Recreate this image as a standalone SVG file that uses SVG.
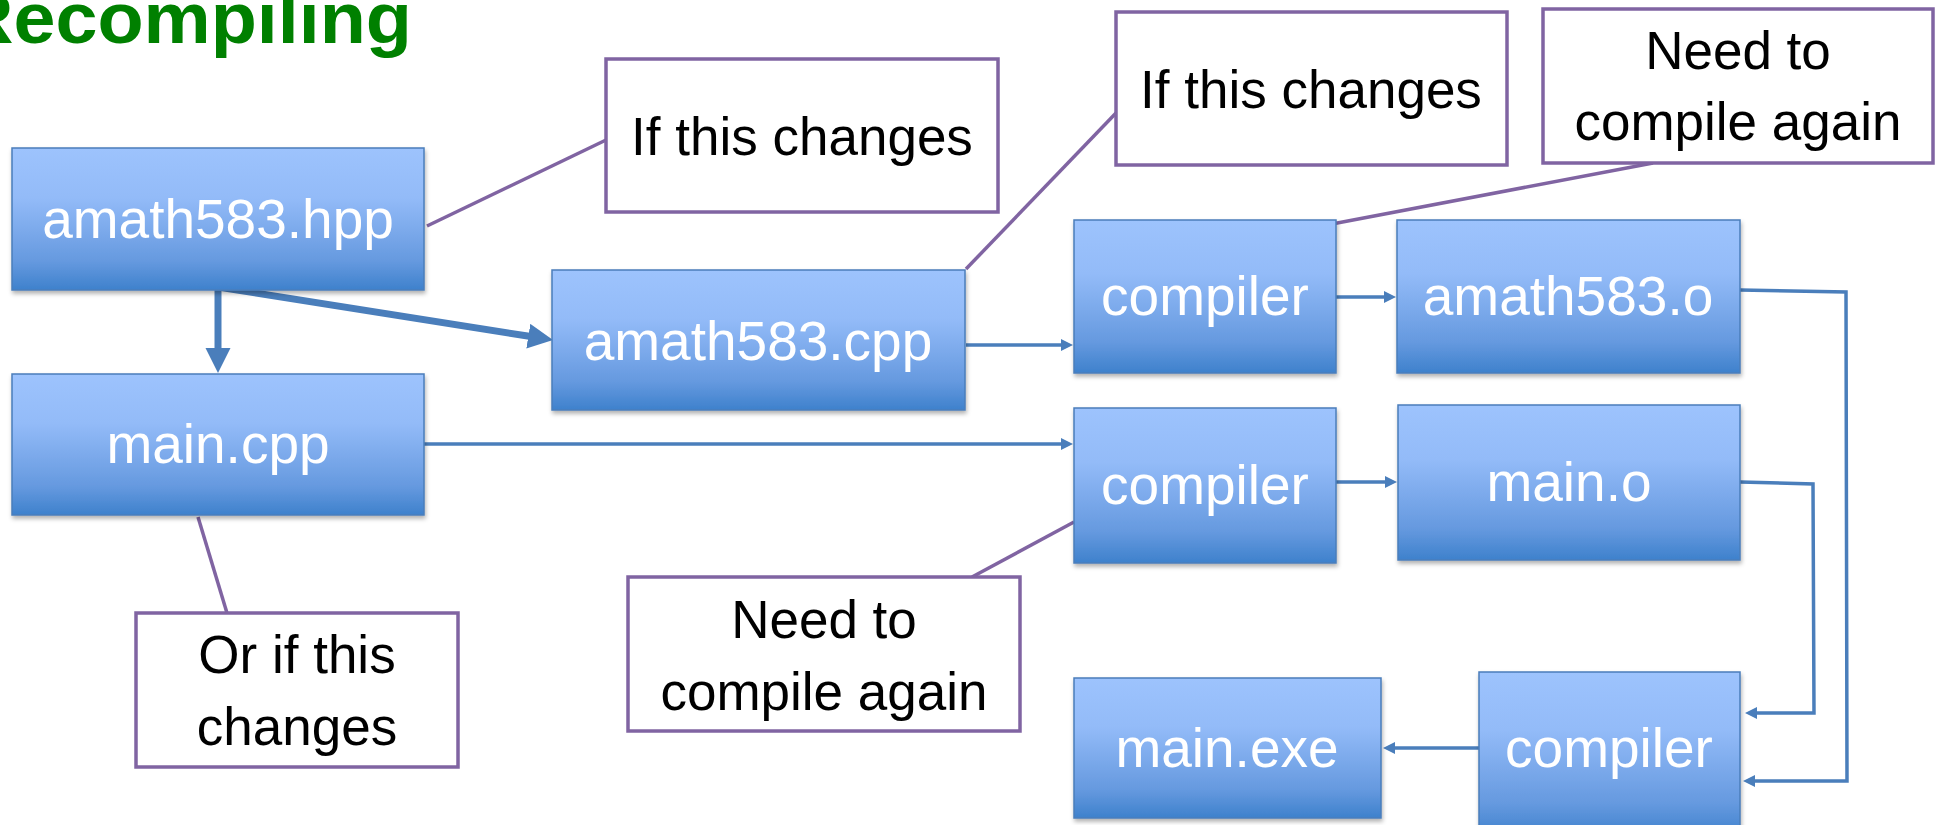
<svg xmlns="http://www.w3.org/2000/svg" width="1937" height="825" viewBox="0 0 1937 825">
<defs>
<linearGradient id="blueGrad" x1="0" y1="0" x2="0" y2="1">
<stop offset="0" stop-color="#9DC3FD"/>
<stop offset="0.35" stop-color="#93BBF8"/>
<stop offset="0.8" stop-color="#6599DF"/>
<stop offset="1" stop-color="#3E81CC"/>
</linearGradient>
<filter id="shadow" x="-5%" y="-5%" width="115%" height="125%">
<feDropShadow dx="1" dy="3" stdDeviation="2" flood-color="#000" flood-opacity="0.3"/>
</filter>
<marker id="bigHead" markerUnits="userSpaceOnUse" markerWidth="26" markerHeight="26" refX="1" refY="12.5" orient="auto">
<path d="M0,0 L25,12.5 L0,25 Z" fill="#4A7EBB"/>
</marker>
<marker id="smallHead" markerUnits="userSpaceOnUse" markerWidth="14" markerHeight="14" refX="1" refY="6" orient="auto">
<path d="M0,0 L12,6 L0,12 Z" fill="#4A7EBB"/>
</marker>
<style>
.node rect { fill: url(#blueGrad); stroke: #4A7EBB; stroke-width: 1.5; filter: url(#shadow); }
.node text { font-family: "Liberation Sans", Arial, sans-serif; font-size: 55px; fill: #FFFFFF; text-anchor: middle; }
.note rect { fill: #FFFFFF; stroke: #8064A2; stroke-width: 3.5; }
.note text { font-family: "Liberation Sans", Arial, sans-serif; font-size: 53px; fill: #000000; text-anchor: middle; }
.callout { stroke: #8064A2; stroke-width: 3.5; fill: none; }
.thick { stroke: #4A7EBB; stroke-width: 7; fill: none; marker-end: url(#bigHead); }
.thin { stroke: #4A7EBB; stroke-width: 3.5; fill: none; marker-end: url(#smallHead); stroke-linejoin: miter; }
.title { font-family: "Liberation Sans", Arial, sans-serif; font-weight: bold; font-size: 72px; fill: #008000; }
</style>
</defs>
<rect x="0" y="0" width="1937" height="825" fill="#FFFFFF"/>
<text class="title" x="-41" y="43" textLength="453" lengthAdjust="spacingAndGlyphs">Recompiling</text>

<g id="connectors">
<line class="callout" x1="427" y1="226" x2="606" y2="140"/>
<line class="callout" x1="966" y1="269" x2="1116" y2="113"/>
<line class="callout" x1="1332" y1="224" x2="1653" y2="163"/>
<line class="callout" x1="1074" y1="522" x2="972" y2="577"/>
<line class="callout" x1="198" y1="517" x2="227" y2="613"/>
<line class="thick" x1="218" y1="287" x2="218" y2="349"/>
<line class="thick" x1="218" y1="287" x2="529.3" y2="336.3"/>
<line class="thin" x1="966" y1="345" x2="1062" y2="345"/>
<line class="thin" x1="1336" y1="297" x2="1385" y2="297"/>
<line class="thin" x1="424" y1="444" x2="1062" y2="444"/>
<line class="thin" x1="1336" y1="482" x2="1386" y2="482"/>
<polyline class="thin" points="1740,290 1846,292 1847,781 1754,781"/>
<polyline class="thin" points="1740,482 1813,484 1814,713 1756,713"/>
<line class="thin" x1="1479" y1="748" x2="1394" y2="748"/>
</g>

<g id="node-hpp" class="node"><rect x="12" y="148" width="412" height="142"/><text x="218" y="238">amath583.hpp</text></g>
<g id="node-maincpp" class="node"><rect x="12" y="374" width="412" height="141"/><text x="218" y="463">main.cpp</text></g>
<g id="node-amathcpp" class="node"><rect x="552" y="270" width="413" height="140"/><text x="758" y="360">amath583.cpp</text></g>
<g id="node-compiler1" class="node"><rect x="1074" y="220" width="262" height="153"/><text x="1205" y="315">compiler</text></g>
<g id="node-amatho" class="node"><rect x="1397" y="220" width="343" height="153"/><text x="1568" y="315">amath583.o</text></g>
<g id="node-compiler2" class="node"><rect x="1074" y="408" width="262" height="155"/><text x="1205" y="504">compiler</text></g>
<g id="node-maino" class="node"><rect x="1398" y="405" width="342" height="155"/><text x="1569" y="501">main.o</text></g>
<g id="node-mainexe" class="node"><rect x="1074" y="678" width="307" height="140"/><text x="1227" y="767">main.exe</text></g>
<g id="node-compiler3" class="node"><rect x="1479" y="672" width="261" height="165"/><text x="1609" y="767">compiler</text></g>

<g id="note-if1" class="note"><rect x="606" y="59" width="392" height="153"/><text x="802" y="155">If this changes</text></g>
<g id="note-if2" class="note"><rect x="1116" y="12" width="391" height="153"/><text x="1311" y="108">If this changes</text></g>
<g id="note-need1" class="note"><rect x="1543" y="9" width="390" height="154"/><text x="1738" y="69">Need to</text><text x="1738" y="140">compile again</text></g>
<g id="note-need2" class="note"><rect x="628" y="577" width="392" height="154"/><text x="824" y="638">Need to</text><text x="824" y="710">compile again</text></g>
<g id="note-orif" class="note"><rect x="136" y="613" width="322" height="154"/><text x="297" y="673">Or if this</text><text x="297" y="745">changes</text></g>
</svg>
